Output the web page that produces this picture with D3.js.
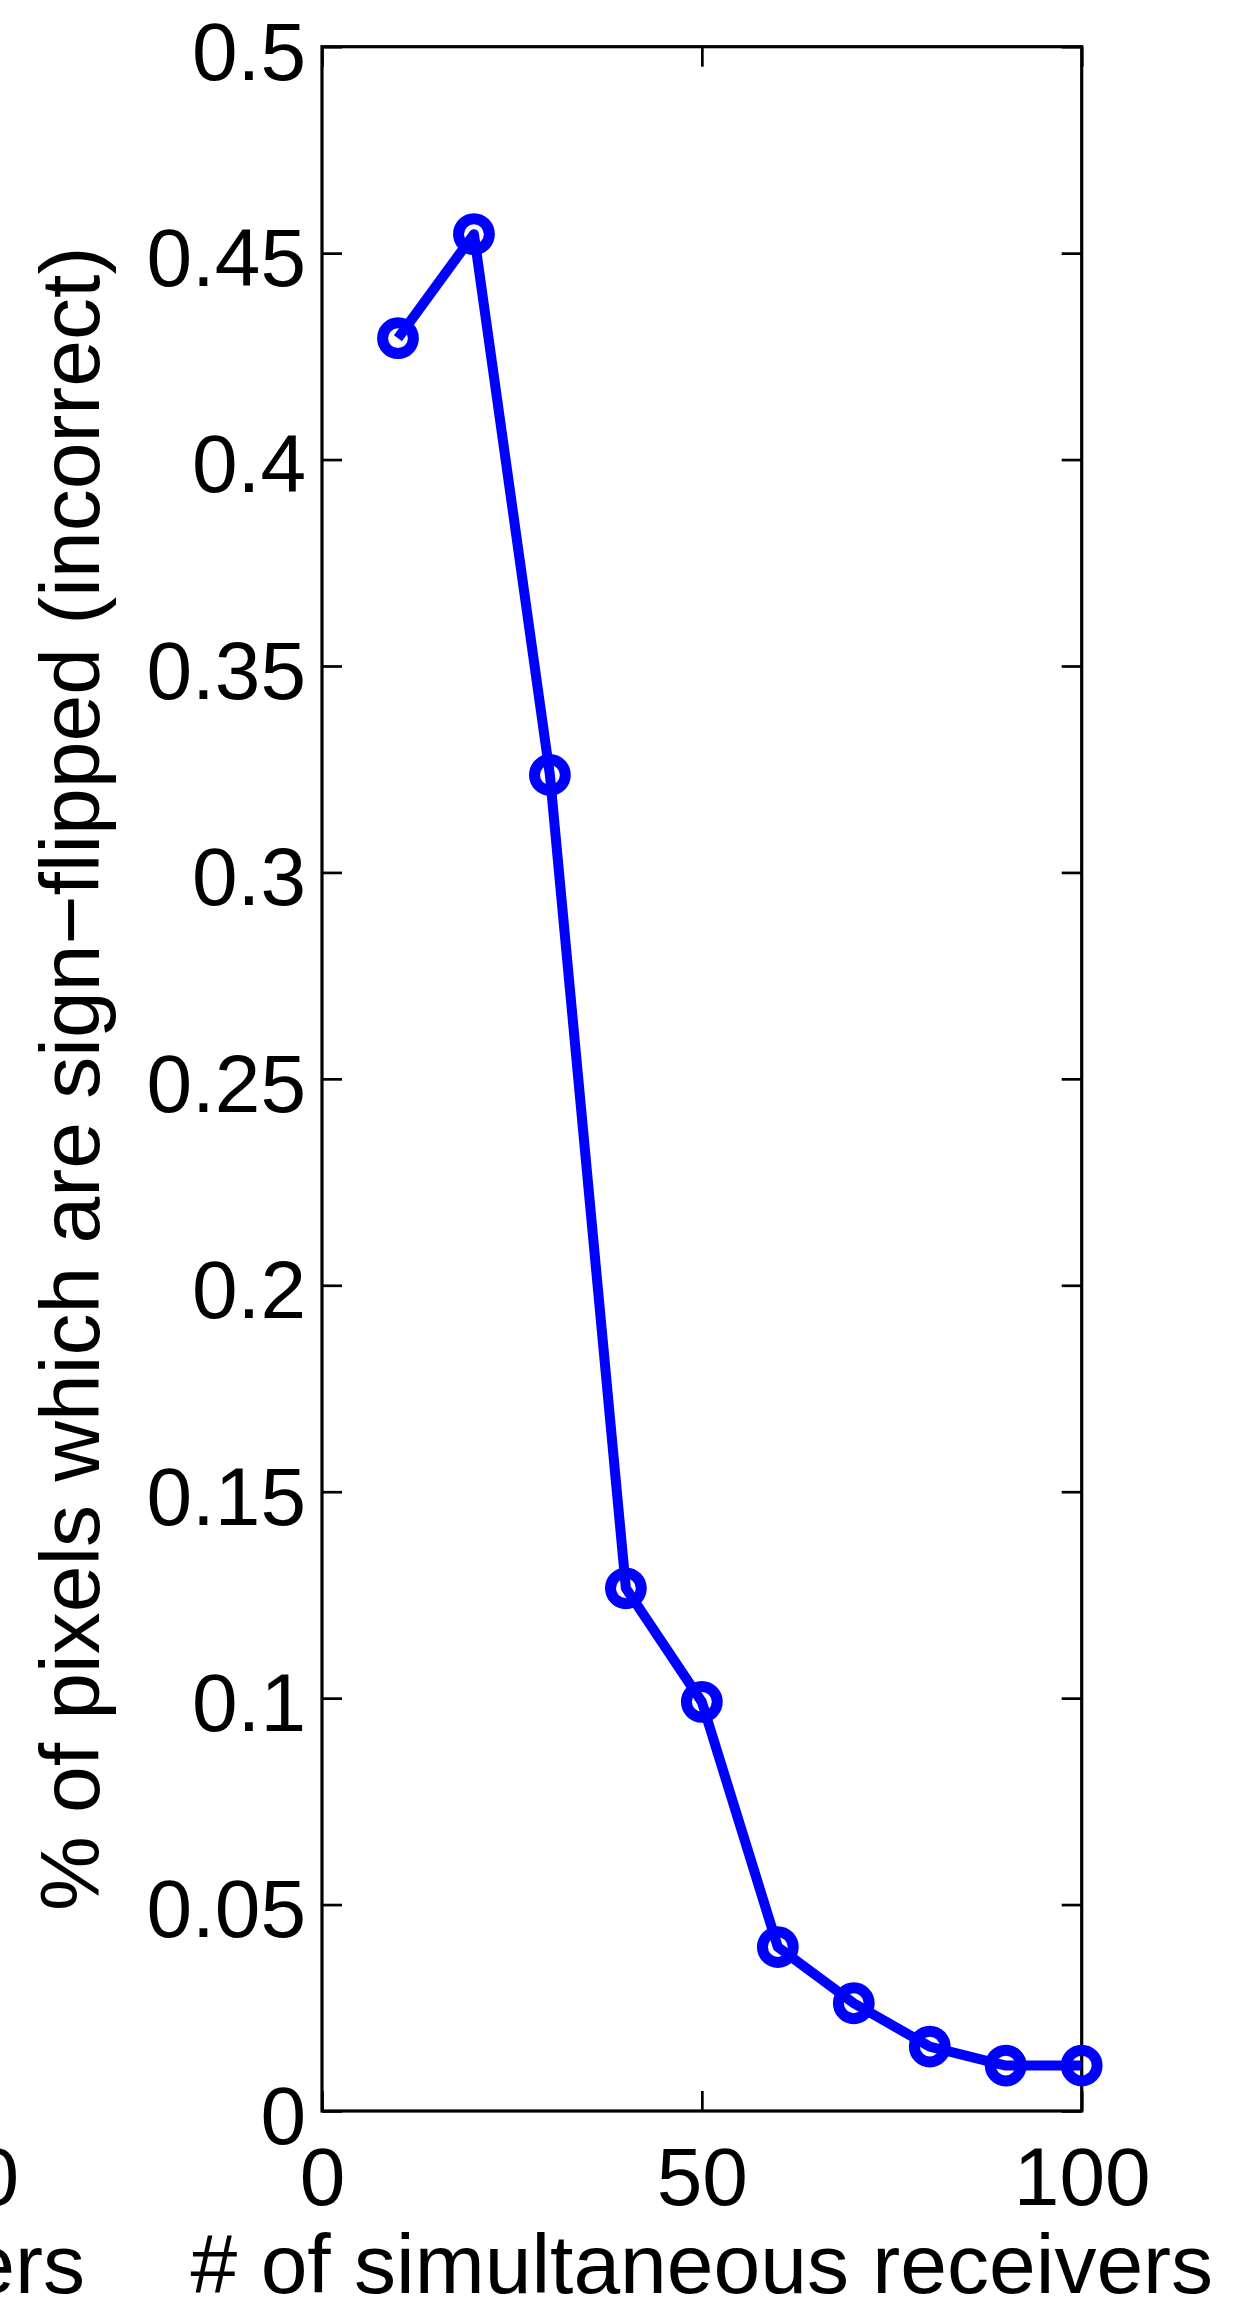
<!DOCTYPE html>
<html>
<head>
<meta charset="utf-8">
<script src="https://cdn.jsdelivr.net/npm/d3@7"></script>
<style>
  body { margin: 0; background: #fff; }
  svg { display: block; font-family: "Liberation Sans", Arial, Helvetica, sans-serif; }
</style>
</head>
<body>
<div class="graphic"></div>
<script>
// values
const receivers = [10, 20, 30, 40, 50, 60, 70, 80, 90, 100]
const flipped = [0.4294, 0.4546, 0.3236, 0.1266, 0.0991, 0.0397, 0.0261, 0.0156, 0.0110, 0.0110]
const xTicks = [0, 50, 100]
const yTicks = [0, 0.05, 0.1, 0.15, 0.2, 0.25, 0.3, 0.35, 0.4, 0.45, 0.5]

const W = 1240, H = 2305
const plotL = 322, plotR = 1081.7, plotT = 46.7, plotB = 2111

const svg = d3.select(".graphic")
  .append("svg")
  .attr("width", W)
  .attr("height", H)

const x = d3.scaleLinear().domain([0, 100]).range([plotL, plotR])
const y = d3.scaleLinear().domain([0, 0.5]).range([plotB, plotT])

// tick label format like matlab (0.5, 0.45, 0.1 ...)
const fmt = d => String(+d.toFixed(2))

// left axis with labels, ticks pointing inward
const gLeft = svg.append("g")
  .attr("transform", `translate(${plotL},0)`)
  .call(d3.axisLeft(y).tickValues(yTicks).tickFormat(fmt)
    .tickSizeInner(-20).tickSizeOuter(0).tickPadding(16))
gLeft.selectAll("text").attr("dy", "0.394em")

// bottom axis with labels
const gBottom = svg.append("g")
  .attr("transform", `translate(0,${plotB})`)
  .call(d3.axisBottom(x).tickValues(xTicks).tickFormat(fmt)
    .tickSizeInner(-20).tickSizeOuter(0).tickPadding(36))

// right + top, ticks only
const gRight = svg.append("g")
  .attr("transform", `translate(${plotR},0)`)
  .call(d3.axisRight(y).tickValues(yTicks).tickFormat("")
    .tickSizeInner(-20).tickSizeOuter(0))
const gTop = svg.append("g")
  .attr("transform", `translate(0,${plotT})`)
  .call(d3.axisTop(x).tickValues(xTicks).tickFormat("")
    .tickSizeInner(-20).tickSizeOuter(0))

;[gLeft, gBottom, gRight, gTop].forEach(g => {
  g.select(".domain").remove()
  g.selectAll("line").attr("stroke", "#000").attr("stroke-width", 2.7)
  g.selectAll("text")
    .attr("fill", "#000")
    .attr("font-size", 82)
    .attr("font-family", "'Liberation Sans', Arial, Helvetica, sans-serif")
})

// frame
svg.append("rect")
  .attr("x", plotL)
  .attr("y", plotT)
  .attr("width", plotR - plotL)
  .attr("height", plotB - plotT)
  .attr("fill", "none")
  .attr("stroke", "#000")
  .attr("stroke-width", 3.2)

// data line
const pts = receivers.map((r, i) => [r, flipped[i]])

svg.append("path")
  .datum(pts)
  .attr("fill", "none")
  .attr("stroke", "#0000ff")
  .attr("stroke-width", 10)
  .attr("stroke-linejoin", "round")
  .attr("d", d3.line().x(d => x(d[0])).y(d => y(d[1])))

svg.selectAll(".mark")
  .data(pts)
  .join("circle")
    .attr("class", "mark")
    .attr("cx", d => x(d[0]))
    .attr("cy", d => y(d[1]))
    .attr("r", 15.4)
    .attr("fill", "none")
    .attr("stroke", "#0000ff")
    .attr("stroke-width", 11)

// axis titles
svg.append("text")
  .text("# of simultaneous receivers")
  .attr("x", (plotL + plotR) / 2)
  .attr("y", 2292.7)
  .attr("text-anchor", "middle")
  .attr("font-size", 84)

svg.append("text")
  .text("% of pixels which are sign\u2212flipped (incorrect)")
  .attr("transform", `translate(98.5,${(plotT + plotB) / 2}) rotate(-90)`)
  .attr("text-anchor", "middle")
  .attr("font-size", 84)

// clipped leftovers of the neighbouring panel
svg.append("text")
  .text("100")
  .attr("x", 19)
  .attr("y", 2205)
  .attr("text-anchor", "end")
  .attr("font-size", 82)

svg.append("text")
  .text("# of simultaneous receivers")
  .attr("x", 85)
  .attr("y", 2292.7)
  .attr("text-anchor", "end")
  .attr("font-size", 84)
</script>
</body>
</html>
